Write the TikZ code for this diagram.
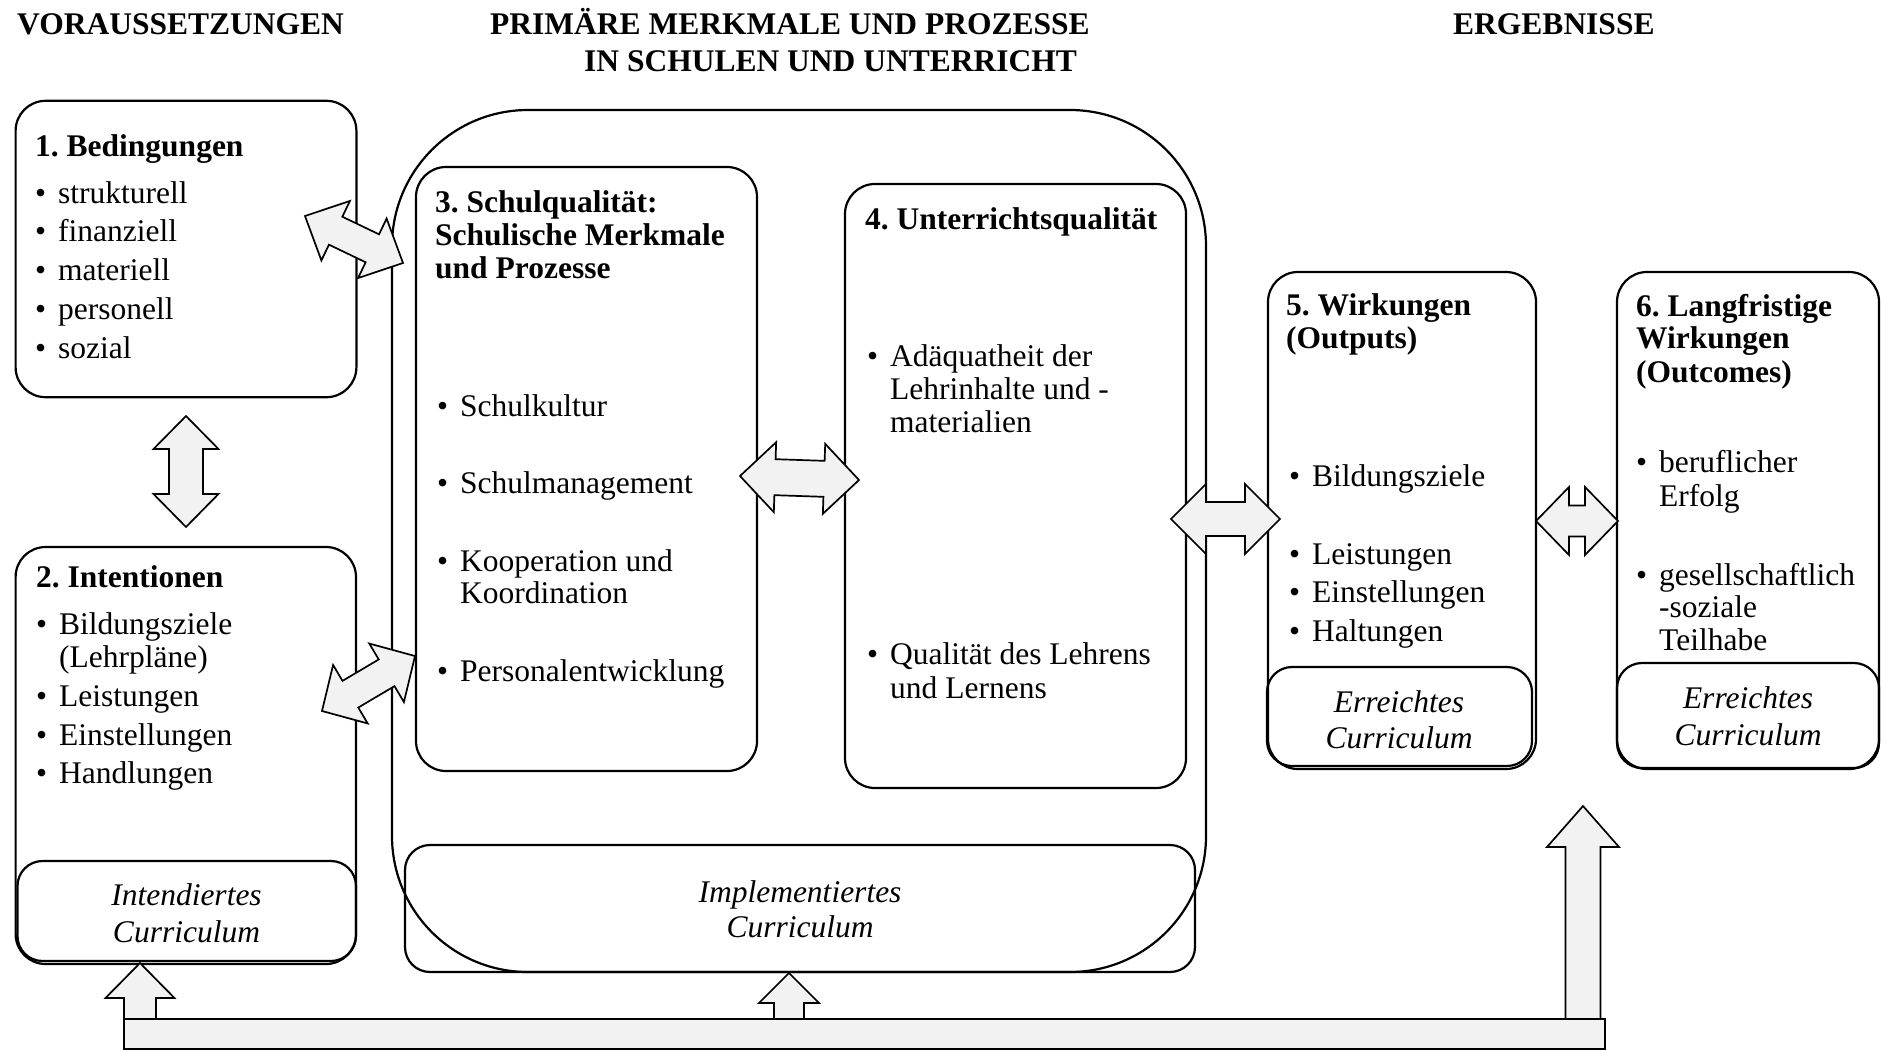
\documentclass[tikz,border=0pt]{standalone}
\usepackage{fontspec}
\setmainfont{Liberation Serif}
\usetikzlibrary{calc,fit}
\frenchspacing

\definecolor{arrowgray}{RGB}{242,242,242}

\tikzset{
  box/.style={draw, line width=2.2pt, rounded corners=30pt, inner sep=0pt},
  subbox/.style={draw, line width=2.2pt, rounded corners=25pt, inner sep=0pt},
  frame/.style={draw, line width=2.2pt, rounded corners=136pt, inner sep=0pt},
  barbox/.style={draw, line width=2.2pt, fill=arrowgray, inner sep=0pt},
  blockarrow/.style={draw, line width=1.7pt, fill=arrowgray, line join=miter},
  txt/.style={anchor=base west, inner sep=0pt, font=\fontsize{31.5}{33}\selectfont},
  hd/.style={txt, font=\fontsize{31.5}{33}\selectfont\bfseries},
  cur/.style={anchor=base, inner sep=0pt, font=\fontsize{31.5}{33}\selectfont\itshape},
}

% bullet with hanging indent
\newcommand\bl{\makebox[23pt][l]{\textbullet}}

% block arrow with two heads: end A, end B, shaft half-width, head half-width, head length
\newcommand\twoway[5]{%
  \draw[blockarrow] (#1)
    -- ($(#1)!#5pt!(#2)!#4pt!90:(#2)$)
    -- ($(#1)!#5pt!(#2)!#3pt!90:(#2)$)
    -- ($(#2)!#5pt!(#1)!#3pt!-90:(#1)$)
    -- ($(#2)!#5pt!(#1)!#4pt!-90:(#1)$)
    -- (#2)
    -- ($(#2)!#5pt!(#1)!#4pt!90:(#1)$)
    -- ($(#2)!#5pt!(#1)!#3pt!90:(#1)$)
    -- ($(#1)!#5pt!(#2)!#3pt!-90:(#2)$)
    -- ($(#1)!#5pt!(#2)!#4pt!-90:(#2)$)
    -- cycle;}

% block arrow with one head: base, tip, shaft half-width, head half-width, head length
\newcommand\oneway[5]{%
  \draw[blockarrow] ($(#1)!#3pt!90:(#2)$)
    -- ($(#2)!#5pt!(#1)!#3pt!-90:(#1)$)
    -- ($(#2)!#5pt!(#1)!#4pt!-90:(#1)$)
    -- (#2)
    -- ($(#2)!#5pt!(#1)!#4pt!90:(#1)$)
    -- ($(#2)!#5pt!(#1)!#3pt!90:(#1)$)
    -- ($(#1)!#3pt!-90:(#2)$)
    -- cycle;}

\begin{document}
\begin{tikzpicture}[x=1pt, y=-1pt]
\useasboundingbox (0,0) rectangle (1881,1050);
\fill[white] (0,0) rectangle (1881,1050);

% column headings
\node[hd] (hVor)   at (17,34.5)   {VORAUSSETZUNGEN};
\node[hd] (hPrimA) at (490,34.5)  {PRIMÄRE MERKMALE UND PROZESSE};
\node[hd] (hPrimB) at (584,71.5)  {IN SCHULEN UND UNTERRICHT};
\node[hd] (hErg)   at (1453,34.5) {ERGEBNISSE};

% frame around school and teaching quality
\node[frame, fit={(392,110) (1206,972)}] (frame) {};

% boxes
\node[box, fit={(15.6,100.8) (356.4,397.2)}] (b1) {};
\node[box, fit={(15.6,547) (356,964)}] (b2) {};
\node[subbox, fit={(17.5,861) (356,961)}] (s2) {};
\node[box, fit={(416,167) (757,771)}] (b3) {};
\node[box, fit={(845,184) (1186,788)}] (b4) {};
\node[subbox, fit={(405,845) (1195,972)}] (s34) {};
\node[box, fit={(1268,272) (1536,769)}] (b5) {};
\node[subbox, fit={(1267,667) (1532,766)}] (s5) {};
\node[box, fit={(1617,272) (1879,769)}] (b6) {};
\node[subbox, fit={(1617,663) (1879,768)}] (s6) {};

% arrow end points
\coordinate (a12a) at (186,416);  \coordinate (a12b) at (186,527);
\coordinate (a13a) at (305,216);  \coordinate (a13b) at (403,263);
\coordinate (a23a) at (322,711);  \coordinate (a23b) at (415,656);
\coordinate (a34a) at (740,476);  \coordinate (a34b) at (859,480);
\coordinate (a45a) at (1171,519); \coordinate (a45b) at (1280,519);
\coordinate (a56a) at (1536,521); \coordinate (a56b) at (1618,521);
\coordinate (u1a) at (140,1019);  \coordinate (u1b) at (140,963);
\coordinate (u2a) at (789,1019);  \coordinate (u2b) at (789,973);
\coordinate (u3a) at (1583,1019); \coordinate (u3b) at (1583,806);

\twoway{a12a}{a12b}{17}{32.5}{33}
\twoway{a13a}{a13b}{15.5}{33}{34}
\twoway{a23a}{a23b}{15.5}{34}{33}
\twoway{a34a}{a34b}{18}{35}{35}
\twoway{a45a}{a45b}{17}{35}{35}
\twoway{a56a}{a56b}{15.5}{34}{33}
\oneway{u1a}{u1b}{16}{34.5}{35}
\oneway{u2a}{u2b}{15}{30}{30}
\oneway{u3a}{u3b}{17.5}{36}{41}

% feedback bar
\node[barbox, fit={(124,1019) (1605,1049)}] (bar) {};

% 1. Bedingungen
\node[hd]  (t1h) at (35,156.7) {1. Bedingungen};
\node[txt] (t1a) at (35,203.3) {\bl strukturell};
\node[txt] (t1b) at (35,241.7) {\bl finanziell};
\node[txt] (t1c) at (35,280)   {\bl materiell};
\node[txt] (t1d) at (35,319)   {\bl personell};
\node[txt] (t1e) at (35,358.3) {\bl sozial};

% 2. Intentionen
\node[hd]  (t2h) at (36,587) {2. Intentionen};
\node[txt] (t2a) at (36,634) {\bl Bildungsziele};
\node[txt] (t2b) at (59,667) {(Lehrpläne)};
\node[txt] (t2c) at (36,706) {\bl Leistungen};
\node[txt] (t2d) at (36,745) {\bl Einstellungen};
\node[txt] (t2e) at (36,783) {\bl Handlungen};
\node[cur] (c2a) at (186.5,905) {Intendiertes};
\node[cur] (c2b) at (186.5,942) {Curriculum};

% 3. Schulqualitaet
\node[hd]  (t3h) at (435,212.5) {3. Schulqualität:};
\node[hd]  (t3i) at (435,245.5) {Schulische Merkmale};
\node[hd]  (t3j) at (435,278.5) {und Prozesse};
\node[txt] (t3a) at (437,416.5) {\bl Schulkultur};
\node[txt] (t3b) at (437,493)   {\bl Schulmanagement};
\node[txt] (t3c) at (437,571)   {\bl Kooperation und};
\node[txt] (t3d) at (460,603.5) {Koordination};
\node[txt] (t3e) at (437,681.5) {\bl Personalentwicklung};

% 4. Unterrichtsqualitaet
\node[hd]  (t4h) at (865,229.5) {4. Unterrichtsqualität};
\node[txt] (t4a) at (867,366) {\bl Adäquatheit der};
\node[txt] (t4b) at (890,399) {Lehrinhalte und -};
\node[txt] (t4c) at (890,432) {materialien};
\node[txt] (t4d) at (867,664) {\bl Qualität des Lehrens};
\node[txt] (t4e) at (890,698) {und Lernens};

\node[cur] (c34a) at (800,902.5) {Implementiertes};
\node[cur] (c34b) at (800,937.5) {Curriculum};

% 5. Wirkungen
\node[hd]  (t5h) at (1286,315.5) {5. Wirkungen};
\node[hd]  (t5i) at (1286,348)   {(Outputs)};
\node[txt] (t5a) at (1289,486)   {\bl Bildungsziele};
\node[txt] (t5b) at (1289,564)   {\bl Leistungen};
\node[txt] (t5c) at (1289,602.5) {\bl Einstellungen};
\node[txt] (t5d) at (1289,641)   {\bl Haltungen};
\node[cur] (c5a) at (1399,712)   {Erreichtes};
\node[cur] (c5b) at (1399,748.5) {Curriculum};

% 6. Langfristige Wirkungen
\node[hd]  (t6h) at (1636,316)   {6. Langfristige};
\node[hd]  (t6i) at (1636,348.5) {Wirkungen};
\node[hd]  (t6j) at (1636,382.5) {(Outcomes)};
\node[txt] (t6a) at (1636,472.5) {\bl beruflicher};
\node[txt] (t6b) at (1659,506)   {Erfolg};
\node[txt] (t6c) at (1636,585)   {\bl gesellschaftlich};
\node[txt] (t6d) at (1659,617.5) {-soziale};
\node[txt] (t6e) at (1659,650.5) {Teilhabe};
\node[cur] (c6a) at (1748,708.5) {Erreichtes};
\node[cur] (c6b) at (1748,745.5) {Curriculum};
\end{tikzpicture}
\end{document}
